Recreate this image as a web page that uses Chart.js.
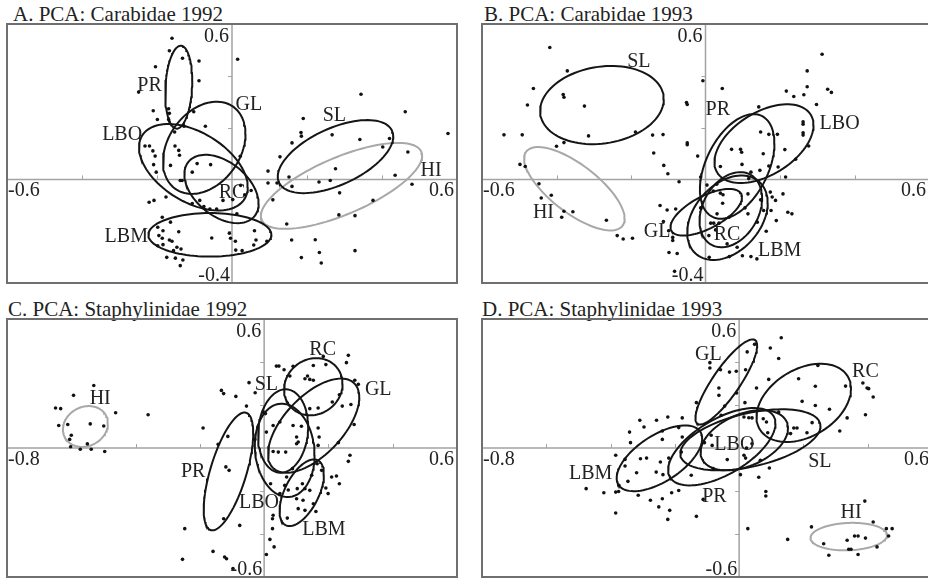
<!DOCTYPE html>
<html>
<head>
<meta charset="utf-8">
<script src="https://cdn.jsdelivr.net/npm/chart.js@4.4.0/dist/chart.umd.min.js"></script>
<style>
  body { margin: 0; width: 928px; height: 578px; overflow: hidden; background: #fff; position: relative; font-family: "Liberation Serif", "DejaVu Serif", serif; }
  .title { position: absolute; font-size: 21px; line-height: 20px; color: #222; white-space: nowrap; }
  .panel { position: absolute; }
  .panel canvas { display: block; }
</style>
</head>
<body>

<div class="title" style="left:13px;top:4px">A. PCA: Carabidae 1992</div>
<div class="title" style="left:484px;top:4px">B. PCA: Carabidae 1993</div>
<div class="title" style="left:8px;top:299px">C. PCA: Staphylinidae 1992</div>
<div class="title" style="left:482px;top:299px">D. PCA: Staphylinidae 1993</div>

<div class="panel" style="left:3px;top:20px"><canvas id="cA" width="458" height="267"></canvas></div>
<div class="panel" style="left:478px;top:20px"><canvas id="cB" width="455" height="267"></canvas></div>
<div class="panel" style="left:3px;top:315px"><canvas id="cC" width="458" height="266"></canvas></div>
<div class="panel" style="left:478px;top:315px"><canvas id="cD" width="458" height="266"></canvas></div>

<script>
// ---- A. Carabidae 1992 ----
const xRangeA = [-0.6, 0.6];
const yRangeA = [-0.4, 0.6];
const dotsA = [
  [-0.16,0.545],[-0.132,0.468],[-0.167,0.497],[-0.088,0.457],[-0.204,0.435],[-0.088,0.381],[0.015,0.464],[-0.249,0.337],
  [-0.21,0.265],[-0.169,0.273],[-0.167,0.255],[-0.199,0.231],[-0.169,0.231],[-0.102,0.261],[-0.128,0.205],[-0.071,0.205],
  [-0.153,0.183],[-0.152,0.129],[-0.232,0.129],[-0.22,0.129],[-0.211,0.11],[-0.205,0.09],[-0.142,0.112],[-0.14,0.093],
  [-0.209,0.057],[-0.202,0.028],[-0.164,0.054],[-0.093,0.061],[-0.057,0.057],[-0.106,0.028],[-0.138,-0.004],[-0.133,-0.004],
  [0.022,0.089],[0.096,0.032],[0.128,0.087],[0.16,0.141],[0.184,0.181],[0.185,0.167],[0.19,0.235],[0.344,0.329],
  [0.462,0.261],[0.576,0.177],[0.267,0.172],[0.341,0.154],[0.42,0.158],[0.402,0.125],[0.469,0.106],[0.276,0.041],
  [0.152,0.009],[0.12,-0.014],[0.096,-0.014],[0.16,-0.027],[0.232,-0.01],[0.262,-0.004],[0.435,0.016],[0.48,-0.019],
  [0.287,-0.052],[0.376,-0.081],[0.109,-0.079],[0.285,-0.137],[0.328,-0.14],[0.146,-0.172],[0.159,-0.234],[0.222,-0.233],
  [0.328,-0.275],[0.233,-0.282],[0.185,-0.302],[0.238,-0.323],[-0.208,-0.081],[-0.221,-0.088],[-0.176,-0.068],[-0.106,-0.093],
  [-0.086,-0.081],[-0.075,-0.105],[-0.059,-0.114],[-0.041,-0.114],[-0.024,-0.081],[0.002,-0.078],[0.023,-0.023],[0.034,-0.059],
  [0.051,-0.043],[0.013,-0.133],[-0.186,-0.146],[-0.164,-0.165],[-0.198,-0.185],[-0.184,-0.198],[-0.195,-0.217],[-0.186,-0.227],
  [-0.167,-0.234],[-0.16,-0.239],[-0.184,-0.252],[-0.198,-0.256],[-0.142,-0.202],[-0.147,-0.262],[-0.136,-0.269],[-0.156,-0.275],
  [-0.174,-0.301],[-0.151,-0.304],[-0.131,-0.311],[-0.138,-0.333],[-0.054,-0.226],[-0.007,-0.208],[-0.004,-0.227],[0.009,-0.239],
  [0.01,-0.273],[0.027,-0.275],[0.06,-0.198],[0.064,-0.234],[0.093,-0.239],[0.058,-0.253]
];
const groupsA = ['PR', 'GL', 'LBO', 'RC', 'LBM', 'SL', 'HI'];
// ellipse: centre x, centre y, half width, half height, correlation
const ellA = [
  [-0.142, 0.356, 0.036, 0.160, 0.15],
  [-0.074, 0.122, 0.110, 0.178, 0.3],
  [-0.103, 0.047, 0.145, 0.167, -0.46],
  [-0.028, -0.037, 0.099, 0.132, -0.43],
  [-0.059, -0.214, 0.164, 0.084, 0.0],
  [0.276, 0.088, 0.154, 0.141, 0.55],
  [0.292, -0.025, 0.215, 0.166, 0.7]
];
const labA = [[-0.22,0.364],[0.045,0.293],[-0.293,0.177],[0.0,-0.049],[-0.282,-0.217],[0.273,0.248],[0.531,0.037]];

// ---- B. Carabidae 1993 ----
const xRangeB = [-0.6, 0.6];
const yRangeB = [-0.4, 0.6];
const dotsB = [
  [-0.418,0.509],[-0.371,0.419],[-0.462,0.351],[-0.382,0.328],[-0.38,0.317],[-0.478,0.287],[-0.325,0.283],[-0.541,0.172],
  [-0.492,0.172],[-0.314,0.168],[-0.38,0.142],[-0.4,0.128],[-0.188,0.183],[-0.142,0.171],[-0.114,0.173],[-0.139,0.102],
  [-0.498,0.058],[-0.484,0.05],[-0.112,0.054],[-0.101,0.022],[-0.071,-0.009],[-0.051,0.297],[-0.049,0.289],[-0.049,0.141],
  [-0.049,0.134],[-0.021,0.09],[-0.007,0.381],[0.045,0.351],[-0.447,-0.017],[-0.441,-0.072],[-0.414,-0.061],[-0.38,-0.123],
  [-0.386,-0.146],[-0.356,-0.125],[-0.266,-0.158],[-0.237,-0.217],[-0.221,-0.23],[-0.196,-0.227],[-0.122,-0.101],[-0.103,-0.118],
  [-0.08,-0.114],[-0.113,-0.163],[-0.099,-0.198],[-0.088,-0.224],[-0.088,-0.236],[-0.098,-0.282],[-0.076,-0.286],[-0.013,0.009],
  [-0.013,-0.11],[0.004,-0.022],[0.03,-0.019],[0.021,-0.045],[0.04,-0.053],[0.046,-0.092],[0.047,-0.059],[0.031,-0.133],
  [0.014,-0.169],[0.022,-0.169],[0.036,-0.169],[0.063,-0.146],[0.009,-0.217],[0.027,-0.195],[0.058,-0.249],[0.085,-0.262],
  [0.01,-0.301],[0.064,-0.298],[0.099,-0.295],[0.122,-0.298],[0.138,-0.307],[0.114,-0.056],[0.106,-0.11],[0.114,-0.133],
  [0.139,-0.165],[0.163,-0.2],[0.148,-0.079],[0.156,-0.12],[0.174,-0.049],[0.179,-0.068],[0.188,-0.081],[0.19,-0.159],
  [0.176,-0.12],[0.208,-0.056],[0.221,-0.127],[0.232,-0.133],[0.215,0.009],[0.195,0.048],[0.213,0.115],[0.193,0.174],
  [0.17,0.174],[0.148,0.183],[0.155,0.099],[0.143,0.28],[0.07,0.116],[0.094,0.116],[0.097,0.105],[0.098,0.058],
  [0.04,0.05],[0.122,0.028],[0.116,0.003],[0.146,0.035],[0.17,0.052],[0.217,0.341],[0.237,0.32],[0.264,0.327],
  [0.273,0.419],[0.273,0.358],[0.313,0.483],[0.328,0.348],[0.338,0.336],[0.298,0.289],[0.262,0.222],[0.262,0.213],
  [0.262,0.18],[0.262,0.171],[0.277,0.129],[0.242,0.078],[-0.083,-0.355]
];
const groupsB = ['SL', 'HI', 'PR', 'LBO', 'GL', 'RC', 'LBM'];
const ellB = [
  [-0.278, 0.287, 0.166, 0.151, 0.15],
  [-0.352, -0.036, 0.135, 0.161, -0.72],
  [0.085, 0.050, 0.100, 0.202, 0.44],
  [0.157, 0.138, 0.133, 0.152, 0.47],
  [0.002, -0.127, 0.096, 0.090, 0.64],
  [0.068, -0.117, 0.084, 0.145, 0.3],
  [0.059, -0.148, 0.108, 0.163, 0.35]
];
const labB = [[-0.179,0.457],[-0.435,-0.123],[0.033,0.274],[0.36,0.218],[-0.13,-0.198],[0.058,-0.211],[0.199,-0.273]];

// ---- C. Staphylinidae 1992 ----
const xRangeC = [-0.8, 0.6];
const yRangeC = [-0.6, 0.6];
const dotsC = [
  [-0.53,0.291],[-0.593,0.245],[-0.649,0.186],[-0.633,0.183],[-0.462,0.164],[-0.361,0.155],[-0.639,0.105],[-0.611,0.109],
  [-0.541,0.112],[-0.499,0.102],[-0.6,0.059],[-0.605,0.04],[-0.602,0.006],[-0.572,-0.006],[-0.55,0.019],[-0.538,-0.006],
  [-0.496,-0.016],[-0.19,0.093],[-0.133,0.268],[-0.126,0.253],[-0.088,0.24],[-0.047,0.304],[-0.028,0.257],[-0.055,0.195],
  [-0.113,0.054],[-0.143,0.017],[-0.119,-0.088],[-0.109,-0.104],[-0.126,-0.329],[-0.076,-0.36],[-0.247,-0.375],[-0.254,-0.518],
  [-0.159,-0.481],[-0.123,-0.507],[-0.117,-0.515],[-0.097,-0.561],[0.007,-0.495],[0.031,-0.46],[0.018,-0.425],[0.026,-0.375],
  [0.026,-0.329],[0.028,-0.313],[-0.003,0.167],[0.004,0.16],[0.028,0.105],[0.007,0.074],[-0.029,0.04],[0.028,-0.016],
  [0.044,-0.019],[0.067,-0.019],[0.038,0.381],[0.046,0.381],[0.062,0.364],[0.09,0.38],[0.08,0.335],[0.127,0.322],
  [0.135,0.335],[0.142,0.319],[0.153,0.315],[0.153,0.384],[0.184,0.426],[0.192,0.388],[0.262,0.431],[0.256,0.397],
  [0.282,0.315],[0.293,0.296],[0.234,0.248],[0.212,0.214],[0.243,0.195],[0.27,0.202],[0.142,0.183],[0.168,0.186],
  [0.049,0.121],[0.09,0.105],[0.116,0.101],[0.101,0.051],[0.106,0.028],[0.101,0.02],[0.168,0.093],[0.171,0.051],
  [0.168,0.012],[0.231,0.025],[0.28,0.109],[0.267,-0.034],[0.262,-0.062],[0.088,-0.096],[0.07,-0.135],[0.064,-0.174],
  [0.049,-0.212],[0.075,-0.195],[0.103,-0.189],[0.119,-0.166],[0.127,-0.189],[0.142,-0.197],[0.101,-0.236],[0.121,-0.243],
  [0.106,-0.282],[0.127,-0.29],[0.153,-0.259],[0.161,-0.295],[0.072,-0.326],[0.165,-0.073],[0.179,-0.104],[0.21,-0.135],
  [0.225,-0.13],[0.234,-0.166],[0.199,-0.212],[0.192,-0.186],[0.148,-0.127],[0.02,-0.166]
];
const groupsC = ['HI', 'PR', 'SL', 'LBO', 'GL', 'RC', 'LBM'];
const ellC = [
  [-0.556, 0.100, 0.070, 0.095, 0.15],
  [-0.111, -0.109, 0.077, 0.274, 0.65],
  [0.059, 0.079, 0.078, 0.194, 0.1],
  [0.064, -0.011, 0.093, 0.217, -0.1],
  [0.154, 0.104, 0.142, 0.219, 0.6],
  [0.153, 0.285, 0.091, 0.133, 0.1],
  [0.117, -0.208, 0.069, 0.155, 0.55]
];
const labC = [[-0.51,0.233],[-0.221,-0.104],[0.007,0.299],[-0.016,-0.251],[0.355,0.276],[0.182,0.462],[0.186,-0.375]];

// ---- D. Staphylinidae 1993 ----
const xRangeD = [-0.8, 0.6];
const yRangeD = [-0.6, 0.6];
const dotsD = [
  [0.131,0.513],[0.048,0.482],[0.025,0.447],[0.097,0.465],[0.123,0.416],[-0.091,0.397],[-0.091,0.372],[-0.058,0.364],
  [-0.03,0.353],[-0.009,0.357],[0.02,0.364],[0.245,0.384],[0.092,0.319],[0.185,0.322],[0.054,0.279],[-0.063,0.279],
  [-0.063,0.245],[-0.008,0.256],[0.237,0.287],[0.331,0.288],[0.385,0.302],[0.398,0.279],[0.403,0.276],[0.417,0.237],
  [-0.133,0.211],[-0.045,0.195],[0.018,0.211],[0.196,0.217],[0.237,0.198],[0.281,0.18],[0.393,0.155],[0.336,0.14],
  [-0.056,0.152],[0.015,0.144],[0.03,0.141],[0.04,0.14],[0.075,0.136],[0.123,0.167],[0.085,0.121],[0.227,0.118],
  [0.313,0.079],[0.211,0.071],[0.18,0.093],[0.17,0.093],[0.16,0.067],[0.089,0.071],[-0.087,0.059],[-0.108,0.025],
  [-0.084,0.012],[-0.177,0.14],[-0.222,0.144],[-0.257,0.129],[-0.309,0.129],[-0.296,0.098],[-0.341,0.074],[-0.239,0.079],
  [-0.188,0.095],[-0.177,0.051],[-0.239,0.04],[-0.338,0.025],[-0.18,-0.019],[-0.219,-0.047],[-0.245,-0.065],[-0.258,-0.112],
  [-0.237,-0.124],[-0.288,-0.047],[-0.307,-0.05],[-0.319,-0.115],[-0.346,-0.155],[-0.384,-0.034],[-0.355,-0.053],[-0.355,-0.084],
  [-0.374,-0.174],[-0.375,-0.202],[-0.384,-0.205],[-0.421,-0.208],[-0.476,-0.189],[-0.314,-0.22],[-0.276,-0.243],[-0.239,-0.236],
  [-0.188,-0.198],[-0.21,-0.208],[-0.25,-0.274],[-0.216,-0.29],[-0.222,-0.332],[-0.384,-0.302],[-0.133,-0.318],[-0.149,-0.127],
  [-0.112,-0.239],[-0.081,-0.096],[-0.037,-0.054],[0.015,-0.034],[0.02,-0.047],[0.023,0.0],[0.04,0.02],[0.066,-0.057],
  [0.094,-0.093],[0.061,-0.136],[0.004,-0.124],[0.083,-0.202],[0.083,-0.223],[0.027,-0.375],[0.151,-0.425],[0.225,-0.367],
  [0.263,-0.445],[0.279,-0.499],[0.336,-0.429],[0.341,-0.471],[0.359,-0.409],[0.37,-0.409],[0.37,-0.495],[0.393,-0.419],
  [0.391,-0.247],[0.417,-0.344],[0.429,-0.46],[0.458,-0.375],[0.476,-0.375],[0.465,-0.409],[0.348,-0.471]
];
const groupsD = ['GL', 'RC', 'LBM', 'PR', 'LBO', 'SL', 'HI'];
const ellD = [
  [-0.040, 0.307, 0.096, 0.198, 0.85],
  [0.201, 0.210, 0.147, 0.182, 0.36],
  [-0.248, -0.048, 0.133, 0.153, 0.6],
  [-0.054, 0.006, 0.167, 0.180, 0.6],
  [0.016, 0.036, 0.136, 0.140, 0.4],
  [0.035, 0.038, 0.218, 0.142, 0.45],
  [0.341, -0.412, 0.119, 0.064, 0.1]
];
const labD = [[-0.096,0.437],[0.393,0.357],[-0.462,-0.115],[-0.077,-0.223],[-0.015,0.02],[0.251,-0.057],[0.348,-0.298]];

const tickStep = 0.2;

function ellipsePoints(e) {
  const [cx, cy, w, h, r] = e;
  const pts = [];
  const s = Math.sqrt(1 - r * r);
  for (let i = 0; i <= 96; i++) {
    const t = i / 96 * Math.PI * 2;
    pts.push({ x: cx + w * Math.cos(t), y: cy + h * (r * Math.cos(t) + s * Math.sin(t)) });
  }
  return pts;
}

function fmt(v) {
  return (Math.round(v * 10) / 10).toString();
}

function makePanel(canvasId, dots, groups, ell, lab, xr, yr) {
  const datasets = [{
    data: dots.map(d => ({ x: d[0], y: d[1] })),
    pointRadius: 1.8,
    pointBackgroundColor: '#111',
    pointBorderWidth: 0,
    showLine: false
  }];
  ell.forEach((e, i) => {
    datasets.push({
      data: ellipsePoints(e),
      showLine: true,
      borderColor: groups[i] === 'HI' ? '#a8a8a8' : '#151515',
      borderWidth: 2,
      pointRadius: 0,
      tension: 0,
      fill: false
    });
  });

  const axesPlugin = {
    id: 'pcaAxes',
    beforeDatasetsDraw(chart) {
      const { ctx, chartArea: a, scales: { x, y } } = chart;
      const x0 = x.getPixelForValue(0), y0 = y.getPixelForValue(0);
      ctx.save();
      ctx.strokeStyle = '#a3a3a3';
      ctx.lineWidth = 1.5;
      ctx.beginPath();
      ctx.moveTo(a.left, y0); ctx.lineTo(a.right, y0);
      ctx.moveTo(x0, a.top); ctx.lineTo(x0, a.bottom);
      ctx.stroke();
      ctx.lineWidth = 1;
      ctx.beginPath();
      for (let v = xr[0] + tickStep; v < xr[1] - 1e-6; v += tickStep) {
        if (Math.abs(v) < 1e-6) continue;
        const px = Math.round(x.getPixelForValue(v)) + 0.5;
        ctx.moveTo(px, y0); ctx.lineTo(px, y0 - 4);
      }
      for (let v = yr[0] + tickStep; v < yr[1] - 1e-6; v += tickStep) {
        if (Math.abs(v) < 1e-6) continue;
        const py = Math.round(y.getPixelForValue(v)) + 0.5;
        ctx.moveTo(x0, py); ctx.lineTo(x0 - 4, py);
      }
      ctx.stroke();
      ctx.restore();
    },
    afterDraw(chart) {
      const { ctx, chartArea: a, scales: { x, y } } = chart;
      const x0 = x.getPixelForValue(0), y0 = y.getPixelForValue(0);
      ctx.save();
      ctx.fillStyle = '#222';
      ctx.font = '20px "Liberation Serif", serif';
      ctx.textBaseline = 'middle';
      ctx.textAlign = 'center';
      lab.forEach((l, i) => {
        ctx.fillText(groups[i], x.getPixelForValue(l[0]), y.getPixelForValue(l[1]) + 1);
      });
      // range labels at axis ends
      ctx.textBaseline = 'alphabetic';
      ctx.textAlign = 'left';
      ctx.fillText(fmt(xr[0]), a.left + 1, y0 + 17);
      ctx.textAlign = 'right';
      ctx.fillText(fmt(xr[1]), a.right - 3, y0 + 17);
      ctx.fillText(fmt(yr[1]), x0 - 3, a.top + 18);
      ctx.fillText(fmt(yr[0]), x0 - 2, a.bottom - 2);
      // frame
      ctx.strokeStyle = '#6f6f6f';
      ctx.lineWidth = 2;
      ctx.strokeRect(a.left, a.top, a.right - a.left, a.bottom - a.top);
      ctx.restore();
    }
  };

  return new Chart(document.getElementById(canvasId), {
    type: 'scatter',
    data: { datasets: datasets },
    options: {
      responsive: false,
      animation: false,
      events: [],
      layout: { padding: 4 },
      scales: {
        x: { type: 'linear', min: xr[0], max: xr[1], display: false },
        y: { type: 'linear', min: yr[0], max: yr[1], display: false }
      },
      plugins: { legend: { display: false }, tooltip: { enabled: false } }
    },
    plugins: [axesPlugin]
  });
}

makePanel('cA', dotsA, groupsA, ellA, labA, xRangeA, yRangeA);
makePanel('cB', dotsB, groupsB, ellB, labB, xRangeB, yRangeB);
makePanel('cC', dotsC, groupsC, ellC, labC, xRangeC, yRangeC);
makePanel('cD', dotsD, groupsD, ellD, labD, xRangeD, yRangeD);
</script>
</body>
</html>
